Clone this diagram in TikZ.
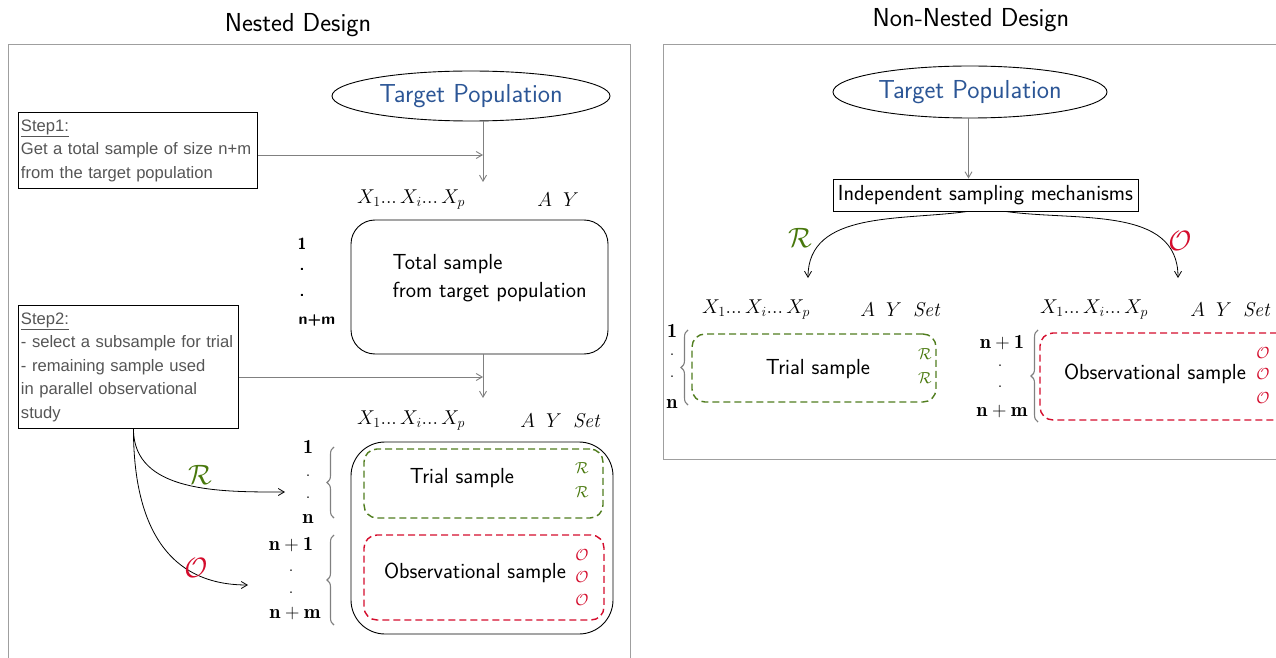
\RequirePackage{fix-cm}
\documentclass[tikz,border=0pt]{standalone}
\usepackage{fontspec}
\newfontfamily\arialf{Liberation Sans}
\usetikzlibrary{shapes.geometric,decorations.pathreplacing,arrows.meta}
\definecolor{tblue}{RGB}{44,86,150}
\definecolor{rgreen}{RGB}{72,120,12}
\definecolor{dgreen}{RGB}{80,125,30}
\definecolor{ored}{RGB}{212,12,44}
\definecolor{stepgray}{RGB}{85,85,85}
\newcommand{\myfs}[1]{\fontsize{#1}{#1}\selectfont}
\begin{document}
\begin{tikzpicture}[x=1pt,y=1pt,
  frame/.style={draw=gray!75, line width=0.9pt},
  titletxt/.style={font=\sffamily\myfs{26}},
  pop/.style={ellipse, draw, line width=0.9pt, text=tblue, font=\sffamily\myfs{26}, inner sep=0pt},
  stepbox/.style={draw, line width=0.9pt, anchor=north west, align=left, font=\arialf\fontsize{16.6}{23.5}\selectfont, text=stepgray, inner xsep=2.5pt, inner ysep=4pt},
  body/.style={font=\sffamily\myfs{21.8}},
  hdr/.style={font=\myfs{20}},
  rowlab/.style={font=\myfs{20}, inner sep=0pt},
  rowsf/.style={font=\sffamily\bfseries\myfs{16}, inner sep=0pt},
  gconn/.style={draw=gray, line width=0.9pt, -{Straight Barb[length=6pt,width=7pt]}},
  curve/.style={draw, line width=0.8pt, -{Straight Barb[length=6pt,width=7pt]}},
  solidbox/.style={draw, line width=0.9pt, rectangle},
  trialbox/.style={draw=dgreen, line width=1.4pt, dash pattern=on 7pt off 4pt, rounded corners=13pt},
  obsbox/.style={draw=ored, line width=1.4pt, dash pattern=on 7pt off 4pt, rounded corners=13pt},
  brc/.style={draw=gray, line width=1.1pt, decorate, decoration={brace, amplitude=7pt}},
  bigR/.style={text=rgreen, font=\myfs{28}},
  bigO/.style={text=ored, font=\myfs{28}},
  smR/.style={text=rgreen, font=\myfs{16}, inner sep=0pt},
  smO/.style={text=ored, font=\myfs{16}, inner sep=0pt}
]
\useasboundingbox (0,0) rectangle (1276,657);
\clip (0,0) rectangle (1276,657);

% ---------------- Left: Nested design ----------------
\node[titletxt] (tl) at (298,632) {Nested Design};
\draw[frame] (8,613) rectangle (630,-10);

\node[pop, minimum width=278pt, minimum height=50pt] (ellL) at (471,561) {Target Population};
\coordinate (a1) at (483,475);
\draw[gconn] (a1 |- ellL.south) -- (a1);

\node[stepbox, text width=234pt, minimum height=76pt] (step1) at (18,545)
  {\mbox{\underline{Step1:}}\\\mbox{Get a total sample of size n+m}\\\mbox{from the target population}};
\coordinate (s1) at (483,502);
\draw[gconn] (step1.east |- s1) -- (s1);

\node[hdr] (h1x) at (411,457) {$X_1...\,X_i...\,X_p$};
\node[hdr] (h1a) at (558,457) {$A\;\;Y$};

\node[solidbox, rounded corners=24pt, minimum width=257pt, minimum height=134pt] (total) at (479.5,370) {};
\node[body, anchor=west, align=left] (totxt) at (389,379) {Total sample\\[6pt]from target population};

\node[rowsf] (r1) at (302,413) {1};
\node[rowsf] (r2) at (302,388) {.};
\node[rowsf] (r3) at (302,362) {.};
\node[rowsf] (r4) at (317,337) {n+m};

\coordinate (a2) at (483,259);
\draw[gconn] (a2 |- total.south) -- (a2);

\node[stepbox, text width=215pt, minimum height=123pt] (step2) at (18,352)
  {\mbox{\underline{Step2:}}\\\mbox{- select a subsample for trial}\\\mbox{- remaining sample used}\\\mbox{in parallel observational}\\\mbox{study}};
\coordinate (s2) at (483,280);
\draw[gconn] (step2.east |- s2) -- (s2);

\node[hdr] (h2x) at (411,236) {$X_1...\,X_i...\,X_p$};
\node[hdr] (h2a) at (560,236) {$A\;\;Y\;\;\mathit{Set}$};

\node[solidbox, rounded corners=34pt, minimum width=262pt, minimum height=192pt] (outer) at (482,119) {};
\node[trialbox, minimum width=239pt, minimum height=69pt] (trialL) at (483.5,173.5) {};
\node[body] (ttL) at (462,179) {Trial sample};
\node[smR] (rL1) at (582,189) {$\mathcal{R}$};
\node[smR] (rL2) at (582,165) {$\mathcal{R}$};
\node[obsbox, minimum width=240pt, minimum height=85pt] (obsL) at (484,79.5) {};
\node[body] (otL) at (475,84) {Observational sample};
\node[smO] (oL1) at (582,102) {$\mathcal{O}$};
\node[smO] (oL2) at (582,80) {$\mathcal{O}$};
\node[smO] (oL3) at (582,57) {$\mathcal{O}$};

\node[rowlab] (b1) at (308,210) {$\mathbf{1}$};
\node[rowlab] (b2) at (308,181) {.};
\node[rowlab] (b3) at (308,159) {.};
\node[rowlab] (b4) at (308,138) {$\mathbf{n}$};
\node[rowlab] (b5) at (291,112) {$\mathbf{n+1}$};
\node[rowlab] (b6) at (291,86) {.};
\node[rowlab] (b7) at (291,64) {.};
\node[rowlab] (b8) at (295,44) {$\mathbf{n+m}$};

\draw[brc] (334,139) -- (334,210);
\draw[brc] (334,32) -- (334,122);

\coordinate (tR) at (285,165);
\coordinate (tO) at (248,72);
\draw[curve] ([xshift=5pt]step2.south) to[out=-90,in=180] (tR);
\draw[curve] ([xshift=5pt]step2.south) to[out=-90,in=180,looseness=1.15] (tO);
\node[bigR] (lR) at (200,182) {$\mathcal{R}$};
\node[bigO] (lO) at (196,89) {$\mathcal{O}$};

% ---------------- Right: Non-nested design ----------------
\node[titletxt] (tr) at (971,637) {Non-Nested Design};
\draw[frame] (663,613) rectangle (1290,198);

\node[pop, minimum width=274pt, minimum height=52pt] (ellR) at (970,565) {Target Population};
\node[solidbox, body, minimum width=305pt, minimum height=32pt, inner sep=2pt] (isb) at (985.5,462) {Independent sampling mechanisms};
\draw[gconn] (ellR.south -| isb.north) ++(-17,0) coordinate (e1) -- (e1 |- isb.north);

\coordinate (cR) at (808,379);
\coordinate (cO) at (1178,379);
\draw[curve] ([xshift=-18pt]isb.south) to[out=188,in=90] (cR);
\draw[curve] ([xshift=20pt]isb.south) to[out=-8,in=90] (cO);
\node[bigR] (rR) at (800,419) {$\mathcal{R}$};
\node[bigO] (rO) at (1180,416) {$\mathcal{O}$};

\node[hdr] (h3x) at (756,347) {$X_1...\,X_i...\,X_p$};
\node[hdr] (h3a) at (900,347) {$A\;\;Y\;\;\mathit{Set}$};
\node[hdr] (h4x) at (1094,347) {$X_1...\,X_i...\,X_p$};
\node[hdr] (h4a) at (1230,347) {$A\;\;Y\;\;\mathit{Set}$};

\node[trialbox, minimum width=244pt, minimum height=68pt] (trialR) at (814,289) {};
\node[body] (ttR) at (818,288) {Trial sample};
\node[smR] (rR1) at (925,303) {$\mathcal{R}$};
\node[smR] (rR2) at (925,279) {$\mathcal{R}$};

\node[obsbox, minimum width=250pt, minimum height=87pt] (obsR) at (1165,280.5) {};
\node[body] (otR) at (1155,283) {Observational sample};
\node[smO] (oR1) at (1263,304) {$\mathcal{O}$};
\node[smO] (oR2) at (1263,283) {$\mathcal{O}$};
\node[smO] (oR3) at (1263,259) {$\mathcal{O}$};

\node[rowlab] (c1) at (672,326) {$\mathbf{1}$};
\node[rowlab] (c2) at (672,302) {.};
\node[rowlab] (c3) at (672,280) {.};
\node[rowlab] (c4) at (672,253) {$\mathbf{n}$};
\node[rowlab] (d1) at (1002,314) {$\mathbf{n+1}$};
\node[rowlab] (d2) at (1000,291) {.};
\node[rowlab] (d3) at (1000,270) {.};
\node[rowlab] (d4) at (1002,246) {$\mathbf{n+m}$};

\draw[brc] (688,252) -- (688,327);
\draw[brc] (1038,235) -- (1038,327);
\end{tikzpicture}
\end{document}
